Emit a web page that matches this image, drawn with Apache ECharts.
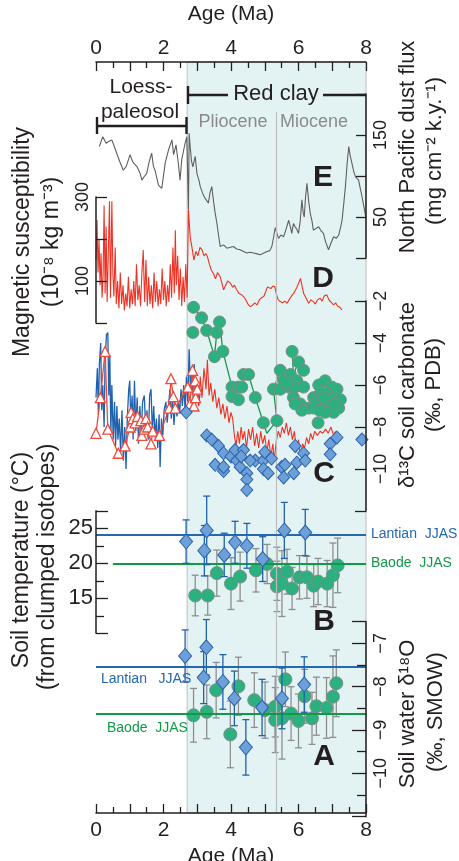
<!DOCTYPE html>
<html>
<head>
<meta charset="utf-8">
<script src="https://cdn.jsdelivr.net/npm/echarts@6/dist/echarts.min.js"></script>
<style>
  html, body { margin: 0; padding: 0; background: #fff; }
  #chart { width: 459px; height: 861px; }
</style>
</head>
<body>
<div id="chart"></div>
<script>
const FONT = '"Liberation Sans", Arial, Helvetica, sans-serif';
const INK = '#231f20';

// age axis (Ma)
const ageLabels = [0, 2, 4, 6, 8];
const redClayStart = 2.7;
const plioMioBoundary = 5.33;

// E: North Pacific dust flux [age, flux]
const dustFlux = [
  [0.10,136],[0.20,148],[0.30,140],[0.37,142],[0.47,144],[0.55,135],[0.61,128],[0.70,118],[0.81,107],[0.90,112],
  [1.01,126],[1.06,120],[1.11,116],[1.22,111],[1.30,104],[1.36,95],[1.44,100],[1.50,103],[1.58,118],[1.65,128],
  [1.70,112],[1.75,107],[1.85,89],[1.95,85],[2.05,116],[2.15,132],[2.25,144],[2.30,126],[2.37,138],[2.44,115],
  [2.49,95],[2.54,120],[2.60,132],[2.64,140],[2.69,148],[2.72,95],[2.74,59],[2.76,152],[2.79,136],[2.83,118],
  [2.87,111],[2.94,124],[2.99,103],[3.05,95],[3.09,87],[3.15,80],[3.20,75],[3.28,70],[3.33,67],[3.38,80],
  [3.43,87],[3.48,70],[3.53,55],[3.58,43],[3.63,28],[3.68,14],[3.78,16],[3.88,12],[3.98,13],[4.07,14],
  [4.17,11],[4.27,10],[4.37,8],[4.47,6],[4.57,7],[4.67,6],[4.77,5],[4.87,4],[4.97,6],[5.07,8],
  [5.15,9],[5.21,14],[5.26,25],[5.31,37],[5.36,30],[5.41,24],[5.48,28],[5.56,26],[5.63,35],[5.71,46],
  [5.76,38],[5.80,30],[5.85,42],[5.90,38],[5.95,35],[6.00,30],[6.05,45],[6.10,71],[6.14,55],[6.17,50],
  [6.21,75],[6.25,91],[6.30,70],[6.35,54],[6.40,45],[6.44,34],[6.52,36],[6.60,38],[6.67,33],[6.74,30],
  [6.80,20],[6.89,10],[6.96,18],[7.04,26],[7.12,24],[7.19,28],[7.25,38],[7.29,46],[7.35,70],[7.39,87],
  [7.44,115],[7.49,136],[7.53,125],[7.58,116],[7.64,105],[7.69,99],[7.73,98],[7.78,95],[7.83,85],[7.88,75],
  [7.95,60],[8.00,48]
];

// D: magnetic susceptibility [age, value]
const magSus = [
  [0.00,150],[0.03,245],[0.06,120],[0.09,200],[0.12,90],[0.15,166],[0.18,60],[0.21,110],[0.24,280],[0.27,70],
  [0.30,230],[0.33,50],[0.36,150],[0.40,290],[0.43,60],[0.47,290],[0.50,120],[0.53,63],[0.57,180],[0.60,45],
  [0.64,100],[0.68,35],[0.72,120],[0.76,45],[0.80,90],[0.84,30],[0.88,70],[0.92,40],[0.96,110],[1.00,35],
  [1.04,80],[1.08,45],[1.12,100],[1.16,40],[1.20,140],[1.24,55],[1.28,90],[1.32,40],[1.36,120],[1.40,174],
  [1.44,50],[1.48,150],[1.52,40],[1.56,110],[1.60,45],[1.64,90],[1.68,35],[1.72,120],[1.76,50],[1.80,100],
  [1.84,40],[1.88,80],[1.92,45],[1.96,130],[2.00,55],[2.04,100],[2.08,40],[2.12,90],[2.16,50],[2.20,140],
  [2.24,60],[2.28,180],[2.32,70],[2.35,221],[2.38,90],[2.42,160],[2.46,55],[2.50,130],[2.54,40],[2.58,110],
  [2.62,50],[2.66,140],[2.70,60],[2.74,269],[2.79,205],[2.84,182],[2.90,150],[2.96,170],[3.02,160],[3.08,180],
  [3.14,174],[3.20,160],[3.26,165],[3.30,158],[3.36,140],[3.42,125],[3.48,118],[3.54,105],[3.60,120],[3.68,110],
  [3.73,95],[3.78,79],[3.84,90],[3.90,100],[3.98,95],[4.05,85],[4.10,90],[4.17,79],[4.24,70],[4.30,68],
  [4.37,63],[4.44,55],[4.50,45],[4.57,39],[4.64,42],[4.70,48],[4.77,43],[4.84,55],[4.90,60],[4.97,63],
  [5.03,75],[5.08,86],[5.12,90],[5.18,82],[5.24,88],[5.30,86],[5.34,70],[5.40,55],[5.46,51],[5.52,48],
  [5.60,52],[5.66,47],[5.72,55],[5.80,65],[5.86,71],[5.92,80],[5.98,90],[6.03,100],[6.06,106],[6.10,90],
  [6.15,71],[6.22,60],[6.30,47],[6.37,55],[6.44,51],[6.50,45],[6.56,55],[6.64,59],[6.70,52],[6.76,64],
  [6.84,67],[6.90,55],[6.96,50],[7.04,43],[7.10,48],[7.16,40],[7.22,38],[7.29,31]
];

// C: soil carbonate d13C
const lantianC13Line = [
  [0.00,-6.6],[0.04,-5.2],[0.07,-7.4],[0.10,-5.0],[0.14,-4.0],[0.17,-7.2],[0.20,-6.0],[0.24,-8.0],[0.27,-4.8],[0.31,-3.6],
  [0.35,-3.5],[0.38,-6.5],[0.41,-4.6],[0.44,-8.3],[0.47,-6.0],[0.51,-8.6],[0.55,-6.8],[0.58,-8.9],[0.62,-7.0],[0.65,-8.6],
  [0.69,-7.6],[0.73,-9.2],[0.77,-7.2],[0.81,-9.6],[0.85,-8.0],[0.89,-10.0],[0.93,-7.5],[0.97,-6.2],[1.00,-5.8],[1.03,-7.8],
  [1.07,-6.5],[1.10,-8.6],[1.14,-5.8],[1.18,-8.2],[1.22,-6.6],[1.26,-8.8],[1.30,-7.0],[1.34,-8.4],[1.38,-6.8],[1.43,-6.5],
  [1.47,-8.0],[1.51,-7.2],[1.55,-8.6],[1.59,-6.5],[1.63,-6.2],[1.67,-8.2],[1.71,-7.0],[1.75,-8.5],[1.79,-7.6],[1.83,-9.0],
  [1.87,-7.4],[1.90,-9.9],[1.94,-7.6],[1.98,-8.4],[2.02,-7.2],[2.07,-6.8],[2.11,-7.8],[2.15,-7.0],[2.19,-6.2],[2.23,-7.6],
  [2.27,-6.6],[2.31,-7.9],[2.35,-6.9],[2.40,-7.5],[2.44,-6.8],[2.48,-7.3],[2.52,-6.2],[2.56,-7.0],[2.60,-6.0],[2.64,-7.2],
  [2.68,-5.6],[2.72,-6.8],[2.76,-4.3],[2.80,-6.2],[2.84,-5.4],[2.88,-6.6],[2.91,-5.0],[2.95,-6.6],[2.99,-5.8],[3.04,-7.0],
  [3.08,-6.4]
];
const loessC13Tri = [
  [0.00,-8.3],[0.13,-6.6],[0.27,-4.4],[0.35,-8.1],[0.66,-9.25],[0.86,-8.9],[1.01,-8.0],[1.04,-7.3],[1.09,-7.6],[1.16,-7.8],
  [1.23,-7.5],[1.33,-7.7],[1.36,-8.4],[1.43,-8.1],[1.48,-7.6],[1.53,-8.0],[1.63,-8.8],[1.68,-8.2],[1.88,-8.4],[2.17,-7.1],
  [2.22,-5.7],[2.29,-6.55],[2.35,-7.1],[2.72,-6.1],[2.78,-6.9],[2.86,-5.3],[2.90,-7.0],[2.94,-5.8],[2.95,-6.6],[3.00,-6.2]
];
const redClayC13Line = [
  [2.80,-6.4],[2.86,-5.6],[2.92,-6.8],[2.98,-5.9],[3.04,-7.0],[3.09,-5.6],[3.14,-6.6],[3.20,-5.2],[3.26,-6.2],[3.30,-4.8],
  [3.35,-6.5],[3.40,-5.9],[3.46,-6.8],[3.52,-6.2],[3.58,-7.1],[3.64,-6.6],[3.70,-7.4],[3.76,-6.9],[3.82,-7.6],[3.88,-7.0],
  [3.94,-7.8],[4.00,-7.3],[4.05,-7.6],[4.10,-8.4],[4.15,-8.9],[4.20,-8.2],[4.25,-8.8],[4.30,-8.0],[4.35,-8.6],[4.40,-8.2],
  [4.46,-9.0],[4.52,-8.1],[4.58,-8.6],[4.64,-8.0],[4.70,-8.9],[4.76,-8.3],[4.82,-9.0],[4.88,-8.2],[4.94,-8.8],[5.00,-8.4],
  [5.06,-9.2],[5.12,-8.6],[5.18,-9.4],[5.24,-8.8],[5.28,-9.6],[5.34,-8.7],[5.40,-8.2],[5.46,-8.5],[5.52,-8.0],[5.58,-8.3],
  [5.64,-7.8],[5.70,-8.4],[5.76,-8.0],[5.82,-8.6],[5.88,-8.2],[5.94,-9.2],[6.00,-8.6],[6.06,-9.4],[6.12,-8.8],[6.18,-9.0],
  [6.24,-8.5],[6.30,-8.8],[6.36,-8.3],[6.42,-8.6],[6.48,-8.2],[6.56,-8.4],[6.64,-8.2],[6.72,-8.3],[6.80,-8.1],[6.88,-8.3],
  [6.96,-8.0],[7.04,-8.4],[7.10,-8.2]
];
const greenC13 = [
  [2.89,-2.3],[3.13,-2.8],[2.87,-3.5],[3.28,-3.4],[3.58,-3.5],[3.66,-3.0],[3.51,-4.65],[3.76,-4.4],[4.03,-6.1],[4.22,-6.1],
  [4.37,-5.5],[4.52,-5.5],[4.32,-6.1],[4.03,-6.55],[4.22,-6.7],[4.72,-6.6],[4.96,-7.8],[5.36,-7.7],[5.26,-6.2],[5.46,-5.3],
  [5.81,-4.4],[6.00,-4.9],[6.15,-5.3],[5.76,-5.5],[5.56,-5.8],[5.46,-6.2],[5.71,-6.1],[5.95,-5.8],[5.90,-6.1],[6.15,-6.1],
  [5.85,-6.6],[6.05,-6.9],[6.30,-7.1],[6.45,-6.6],[6.60,-6.0],[6.79,-5.8],[6.99,-6.1],[7.14,-6.2],[6.65,-6.4],[6.84,-6.4],
  [7.04,-6.6],[7.24,-6.7],[6.45,-7.1],[6.70,-6.9],[6.94,-7.1],[7.19,-7.1],[7.04,-7.3],[6.79,-7.3],[6.58,-7.8],[6.10,-7.2],
  [5.90,-6.9],[5.66,-5.9],[6.55,-6.8],[6.89,-6.7],[7.09,-6.9],[6.75,-6.6],[6.62,-7.2]
];
const greenC13Paths = [
  [[2.89,-2.3],[3.13,-2.8],[3.28,-3.4],[3.51,-4.65],[3.58,-3.5],[3.66,-3.0],[3.76,-4.4],[4.03,-6.1]],
  [[4.37,-5.5],[4.52,-5.5],[4.72,-6.6],[4.96,-7.8],[5.06,-8.3],[5.36,-7.7],[5.26,-6.2],[5.46,-5.3]],
  [[5.81,-4.4],[5.85,-5.5],[6.00,-4.9],[6.15,-5.3]]
];
const blueC13 = [
  [2.67,-7.3],[3.28,-8.4],[3.43,-8.6],[3.63,-8.9],[3.78,-9.25],[3.53,-9.8],[3.78,-10.1],[4.00,-9.4],[4.12,-9.1],[4.17,-9.6],
  [4.37,-9.1],[4.27,-9.9],[4.47,-10.2],[4.47,-10.5],[4.47,-11.0],[4.72,-9.6],[4.96,-9.6],[4.96,-10.0],[5.20,-9.5],[5.10,-10.2],
  [5.50,-9.9],[5.56,-10.4],[5.86,-10.2],[5.90,-8.9],[5.95,-9.7],[6.15,-9.25],[6.20,-9.6],[6.94,-8.8],[7.14,-8.5],[6.94,-9.3],
  [7.88,-8.6],[3.78,-9.9],[4.30,-9.4],[4.57,-9.6],[5.00,-9.2],[5.60,-9.8]
];

// B: soil temperature [age, T, error]
const tempBlue = [
  [2.67,23.1,3.1],[3.28,24.7,4.9],[3.21,21.8,3.6],[3.80,21.2,3.1],[4.12,23.0,3.0],[4.47,22.5,3.2],[4.94,20.6,3.2],
  [5.58,24.7,4.0],[6.20,24.4,3.3]
];
const tempGreen = [
  [2.94,15.4,2.9],[3.31,15.4,2.8],[3.58,18.6,3.3],[4.00,17.1,3.7],[4.27,18.1,3.5],[4.74,19.0,3.1],[5.07,19.9,2.8],
  [5.36,18.5,3.8],[5.66,18.8,3.2],[5.36,16.7,3.6],[5.51,17.1,4.7],[5.81,16.4,3.0],[6.03,18.0,3.1],[6.25,18.0,3.0],
  [6.45,16.8,3.0],[6.58,17.4,3.3],[6.85,17.1,3.3],[7.02,18.3,4.6],[7.16,19.7,3.9]
];
const lantianT = 24.1;
const baodeT = 20.0;
const baodeTStart = 0.5;

// A: soil water d18O [age, value, error]
const d18oBlue = [
  [2.64,-7.29,0.6],[3.27,-7.09,0.64],[3.19,-7.79,0.6],[3.76,-7.89,0.63],[4.10,-8.27,0.63],[4.44,-9.40,0.64],
  [4.92,-8.48,0.65],[5.51,-8.27,0.7],[6.17,-7.95,0.64]
];
const d18oGreen = [
  [2.89,-8.66,0.62],[3.28,-8.58,0.62],[3.56,-8.08,0.64],[3.98,-9.10,0.77],[4.22,-7.99,0.67],[4.69,-8.31,0.63],
  [5.01,-8.54,0.65],[5.31,-8.46,0.7],[5.31,-8.77,0.75],[5.51,-8.73,0.94],[5.61,-7.83,0.63],[5.78,-8.62,0.62],
  [6.00,-8.79,0.62],[6.18,-8.22,0.62],[6.40,-8.73,0.6],[6.53,-8.45,0.67],[6.83,-8.49,0.7],[7.02,-8.23,0.94],
  [7.12,-7.92,0.77]
];
const lantianO = -7.54;
const baodeO = -8.62;

const chart = echarts.init(document.getElementById('chart'), null, { renderer: 'canvas' });

const minus = v => String(v).replace('-', '\u2212');
const only = list => v => list.some(l => Math.abs(l - v) < 1e-6) ? minus(v) : '';

// all panels share the same horizontal extent
const grid = (top, height) => ({ left: 96, right: 93, top: top, height: height, outerBoundsMode: 'none' });
const grids = [
  { left: 96, right: 93, top: 62, bottom: 48, outerBoundsMode: 'none' }, // frame
  grid(94, 164),      // E
  grid(197, 126),     // D
  grid(301, 210),     // C
  grid(510.8, 122.5), // B
  grid(621.7, 195)    // A
];

const lineInk = { color: INK, width: 1.5 };
const labelFont = (size) => ({ fontSize: size, color: INK, fontFamily: FONT });

const frameX = (pos) => ({
  gridIndex: 0, type: 'value', position: pos, min: 0, max: 8, interval: 1, z: 10,
  name: 'Age (Ma)', nameLocation: 'middle', nameGap: pos === 'top' ? 37 : 31,
  nameTextStyle: labelFont(21),
  axisLine: { onZero: false, lineStyle: lineInk },
  axisTick: { inside: true, length: 9, lineStyle: { color: INK, width: 1.3 } },
  minorTick: { show: true, splitNumber: 2, length: 6, lineStyle: { color: INK, width: 1.3 } },
  axisLabel: Object.assign({ margin: pos === 'top' ? 3 : 7, formatter: only(ageLabels) }, labelFont(21)),
  splitLine: { show: false }
});
const hiddenX = (g) => ({ gridIndex: g, type: 'value', min: 0, max: 8, show: false, axisLine: { onZero: false } });

const yAx = (g, pos, min, max, interval, labels, o) => ({
  gridIndex: g, type: 'value', position: pos, min: min, max: max, interval: interval, z: 10,
  axisLine: { show: true, onZero: false, lineStyle: lineInk },
  axisTick: { show: true, inside: true, length: o.tick, lineStyle: { color: INK, width: 1.3 } },
  minorTick: o.minor ? { show: true, splitNumber: 2, length: o.minor, lineStyle: { color: INK, width: 1.3 } } : { show: false },
  axisLabel: Object.assign({ margin: o.margin, rotate: o.rotate || 0, formatter: only(labels) }, labelFont(o.font)),
  splitLine: { show: false }
});

const errorBars = (data, color, xi, yi) => ({
  type: 'custom', xAxisIndex: xi, yAxisIndex: yi, silent: true, z: 3, clip: false,
  data: data,
  renderItem: (params, api) => {
    const x = api.value(0), y = api.value(1), e = api.value(2);
    const hi = api.coord([x, y + e]);
    const lo = api.coord([x, y - e]);
    const s = { stroke: color, lineWidth: 1.3 };
    return {
      type: 'group',
      children: [
        { type: 'line', shape: { x1: hi[0], y1: hi[1], x2: lo[0], y2: lo[1] }, style: s },
        { type: 'line', shape: { x1: hi[0] - 3.5, y1: hi[1], x2: hi[0] + 3.5, y2: hi[1] }, style: s },
        { type: 'line', shape: { x1: lo[0] - 3.5, y1: lo[1], x2: lo[0] + 3.5, y2: lo[1] }, style: s }
      ]
    };
  }
});

const BLUE_LINE = '#1f62ad';
const BLUE_FILL = '#6d9fd8';
const GREEN_FILL = '#2bb07f';
const GREEN_EDGE = '#7f8c86';
const GREEN_LINE = '#13994a';
const RED = '#ee3326';
const GRAY_BAR = '#8e8e8e';

const refLine = (xi, yi, lines) => ({
  type: 'line', xAxisIndex: xi, yAxisIndex: yi, data: [], z: 2, silent: true,
  markLine: {
    silent: true, symbol: 'none', animation: false,
    data: lines.map(l => [
      { coord: [l.from, l.value], lineStyle: { color: l.color, width: 1.8, type: 'solid' },
        label: { show: true, formatter: l.text, position: l.pos, distance: l.dist, color: l.color,
                 fontSize: 14, fontFamily: FONT, padding: l.pad || 0 } },
      { coord: [8, l.value] }
    ])
  }
});

const series = [
  // shaded red clay interval + Pliocene/Miocene boundary
  {
    type: 'line', xAxisIndex: 1, yAxisIndex: 0, data: [], z: 0, silent: true,
    markArea: {
      silent: true,
      itemStyle: { color: '#e3f3f4', borderColor: '#bcbcbc', borderWidth: 1 },
      data: [[{ coord: [redClayStart, 0] }, { coord: [8, 1] }]]
    },
    markLine: {
      silent: true, symbol: 'none', label: { show: false },
      lineStyle: { color: '#bcbcbc', width: 1.2, type: 'solid' },
      data: [[{ coord: [plioMioBoundary, 0] }, { coord: [plioMioBoundary, 0.933] }]]
    }
  },
  // E
  { type: 'line', xAxisIndex: 2, yAxisIndex: 1, data: dustFlux, symbol: 'none', clip: false, z: 3,
    lineStyle: { color: '#5f5f5f', width: 1.1 } },
  // D
  { type: 'line', xAxisIndex: 3, yAxisIndex: 2, data: magSus, symbol: 'none', clip: false, z: 3,
    lineStyle: { color: RED, width: 1.1 } },
  // C
  { type: 'line', xAxisIndex: 4, yAxisIndex: 3, data: lantianC13Line, symbol: 'none', clip: false, z: 3,
    lineStyle: { color: BLUE_LINE, width: 1.3 } },
  { type: 'line', xAxisIndex: 4, yAxisIndex: 3, data: loessC13Tri, clip: false, z: 4,
    symbol: 'triangle', symbolSize: 10, showSymbol: true,
    itemStyle: { color: '#ffffff', borderColor: '#f04a3c', borderWidth: 1.3 },
    lineStyle: { color: '#f04a3c', width: 1.3 } },
  { type: 'line', xAxisIndex: 4, yAxisIndex: 3, data: redClayC13Line, symbol: 'none', clip: false, z: 3,
    lineStyle: { color: RED, width: 1.1 } },
  ...greenC13Paths.map(p => ({
    type: 'line', xAxisIndex: 4, yAxisIndex: 3, data: p, symbol: 'none', clip: false, z: 4,
    lineStyle: { color: GREEN_LINE, width: 1.3 } })),
  { type: 'scatter', xAxisIndex: 4, yAxisIndex: 3, data: greenC13, symbolSize: 12, clip: false, z: 5,
    itemStyle: { color: GREEN_FILL, borderColor: GREEN_EDGE, borderWidth: 1, opacity: 1 } },
  { type: 'scatter', xAxisIndex: 4, yAxisIndex: 3, data: blueC13, symbol: 'diamond', symbolSize: [12, 13], clip: false, z: 5,
    itemStyle: { color: BLUE_FILL, borderColor: '#2a63ab', borderWidth: 1, opacity: 1 } },
  // B
  refLine(5, 4, [
    { from: 0, value: lantianT, color: '#2468b0', text: 'Lantian  JJAS', pos: 'end', dist: 5 },
    { from: baodeTStart, value: baodeT, color: '#0f9a46', text: 'Baode  JJAS', pos: 'end', dist: 5 }
  ]),
  errorBars(tempGreen, GRAY_BAR, 5, 4),
  { type: 'scatter', xAxisIndex: 5, yAxisIndex: 4, data: tempGreen, symbolSize: 13, clip: false, z: 4,
    itemStyle: { color: GREEN_FILL, borderColor: GREEN_EDGE, borderWidth: 1, opacity: 1 } },
  Object.assign(errorBars(tempBlue, BLUE_LINE, 5, 4), { z: 5 }),
  { type: 'scatter', xAxisIndex: 5, yAxisIndex: 4, data: tempBlue, symbol: 'diamond', symbolSize: [13, 15], clip: false, z: 6,
    itemStyle: { color: BLUE_FILL, borderColor: '#2a63ab', borderWidth: 1, opacity: 1 } },
  // A
  refLine(6, 5, [
    { from: 0, value: lantianO, color: '#2468b0', text: 'Lantian   JJAS', pos: 'insideStartBottom', dist: 5 },
    { from: 0, value: baodeO, color: '#0f9a46', text: 'Baode  JJAS', pos: 'insideStartBottom', dist: 8, pad: [0, 0, 0, 3] }
  ]),
  errorBars(d18oGreen, GRAY_BAR, 6, 5),
  { type: 'scatter', xAxisIndex: 6, yAxisIndex: 5, data: d18oGreen, symbolSize: 13, clip: false, z: 4,
    itemStyle: { color: GREEN_FILL, borderColor: GREEN_EDGE, borderWidth: 1, opacity: 1 } },
  Object.assign(errorBars(d18oBlue, BLUE_LINE, 6, 5), { z: 5 }),
  { type: 'scatter', xAxisIndex: 6, yAxisIndex: 5, data: d18oBlue, symbol: 'diamond', symbolSize: [13, 15], clip: false, z: 6,
    itemStyle: { color: BLUE_FILL, borderColor: '#2a63ab', borderWidth: 1, opacity: 1 } }
];

// text annotations and brackets
const txt = (x, y, text, size, o = {}) => ({
  type: 'text', x: x, y: y, rotation: o.rot ? Math.PI / 2 : 0, z: 100, silent: true,
  style: {
    text: text, font: (o.bold ? 'bold ' : '') + size + 'px ' + FONT, fill: o.color || INK,
    align: 'center', verticalAlign: 'middle', textAlign: 'center', textVerticalAlign: 'middle'
  }
});
const seg = (x1, y1, x2, y2) => ({
  type: 'line', z: 100, silent: true, shape: { x1: x1, y1: y1, x2: x2, y2: y2 },
  style: { stroke: INK, lineWidth: 2.4 }
});

const graphics = [
  txt(141, 87, 'Loess-', 21),
  txt(140, 112, 'paleosol', 21),
  seg(97, 126, 186.5, 126), seg(97, 117, 97, 134), seg(186.5, 117, 186.5, 134),
  txt(276, 94, 'Red clay', 22),
  seg(188, 95, 228, 95), seg(323, 95, 366, 95), seg(188, 86, 188, 104),
  txt(233, 122, 'Pliocene', 18, { color: '#8a8a8a' }),
  txt(314, 122, 'Miocene', 18, { color: '#8a8a8a' }),
  txt(323, 178, 'E', 30, { bold: true }),
  txt(323, 279, 'D', 30, { bold: true }),
  txt(324, 474, 'C', 30, { bold: true }),
  txt(324, 622, 'B', 30, { bold: true }),
  txt(324, 757, 'A', 30, { bold: true }),
  txt(23, 242, 'Magnetic susceptibility', 23, { rot: true }),
  txt(52, 242, '(10\u207B\u2078 kg m\u207B\u00B3)', 23, { rot: true }),
  txt(22, 560, 'Soil temperature (\u00B0C)', 23, { rot: true }),
  txt(48, 567, '(from clumped isotopes)', 23, { rot: true }),
  txt(408, 147, 'North Pacific dust flux', 22, { rot: true }),
  txt(435, 151, '(mg cm\u207B\u00B2 k.y.\u207B\u00B9)', 22, { rot: true }),
  txt(408, 395, '\u03B4\u00B9\u00B3C soil carbonate', 22, { rot: true }),
  txt(434, 385, '(\u2030, PDB)', 22, { rot: true }),
  txt(408, 714, 'Soil water \u03B4\u00B9\u2078O', 22, { rot: true }),
  txt(436, 712, '(\u2030, SMOW)', 22, { rot: true })
];

chart.setOption({
  animation: false,
  backgroundColor: '#ffffff',
  grid: grids,
  xAxis: [frameX('top'), frameX('bottom'), hiddenX(1), hiddenX(2), hiddenX(3), hiddenX(4), hiddenX(5)],
  yAxis: [
    { gridIndex: 0, type: 'value', min: 0, max: 1, show: false, axisLine: { onZero: false } },
    yAx(1, 'right', 0, 200, 50, [50, 150], { tick: 10, margin: 6, rotate: 90, font: 18 }),
    yAx(2, 'left', 0, 300, 100, [100, 300], { tick: 11, margin: 4, rotate: 90, font: 18 }),
    yAx(3, 'right', -12, -2, 2, [-2, -4, -6, -8, -10], { tick: 11, margin: 6, rotate: 90, font: 18 }),
    yAx(4, 'left', 10, 27.5, 5, [15, 20, 25], { tick: 12, minor: 8, margin: 3, font: 22 }),
    yAx(5, 'right', -11, -6.5, 1, [-7, -8, -9, -10], { tick: 14, minor: 9, margin: 6, rotate: 90, font: 18 })
  ],
  series: series,
  graphic: graphics
});
</script>
</body>
</html>
